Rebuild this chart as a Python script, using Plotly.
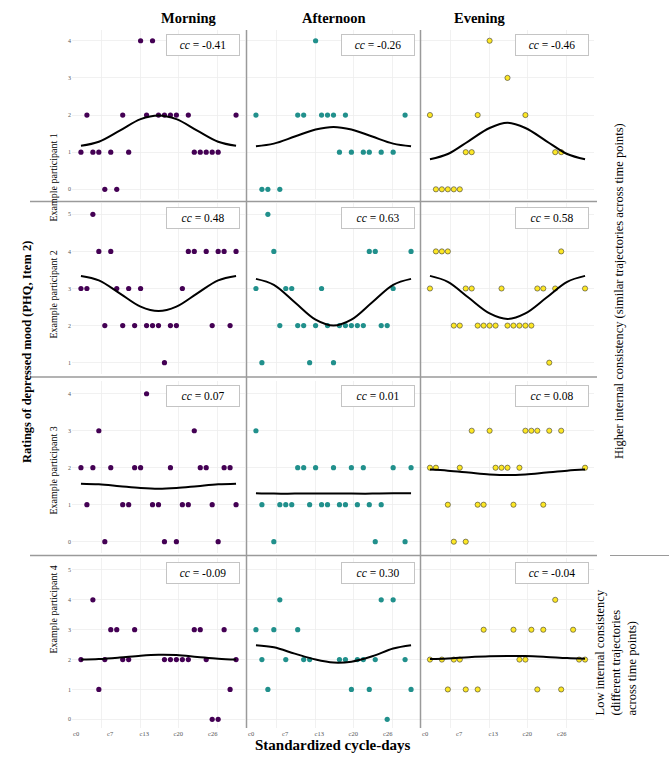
import plotly.graph_objects as go

W, H = 669, 764

# ---------------- data ----------------
col_names = ["Morning", "Afternoon", "Evening"]
row_names = ["Example participant 1", "Example participant 2",
             "Example participant 3", "Example participant 4"]
colors = ["#440154", "#21908C", "#FDE725"]
cc_values = [["-0.41", "-0.26", "-0.46"],
             ["0.48", "0.63", "0.58"],
             ["0.07", "0.01", "0.08"],
             ["-0.09", "0.30", "-0.04"]]
x_tick_text = ["c0", "c7", "c13", "c20", "c26"]
x_tick_vals = [-0.8, 4.9, 10.6, 16.3, 22.1]
x_grid_vals = [3.4, 9.9, 16.4, 22.9]

# Participant 1
p1_m_days = [0, 1, 2, 3, 4, 5, 6, 7, 8, 10, 11, 12, 13, 14, 15, 16, 18, 19, 20, 21, 22, 23, 26]
p1_m_vals = [1, 2, 1, 1, 0, 1, 0, 2, 1, 4, 2, 4, 2, 2, 2, 2, 2, 1, 1, 1, 1, 1, 2]
p1_a_days = [0, 1, 2, 4, 7, 8, 10, 11, 12, 13, 14, 15, 16, 18, 19, 21, 23, 25]
p1_a_vals = [2, 0, 0, 0, 2, 2, 4, 2, 2, 2, 1, 2, 1, 1, 1, 1, 1, 2]
p1_e_days = [0, 1, 2, 3, 4, 5, 6, 7, 8, 10, 13, 16, 21, 22]
p1_e_vals = [2, 0, 0, 0, 0, 0, 1, 1, 2, 4, 3, 2, 1, 1]
# Participant 2
p2_m_days = [0, 1, 2, 3, 4, 5, 6, 7, 8, 9, 10, 11, 12, 13, 14, 15, 16, 17, 18, 19, 21, 22, 23, 24, 25, 26]
p2_m_vals = [3, 3, 5, 4, 2, 4, 3, 2, 3, 2, 3, 2, 2, 2, 1, 2, 2, 3, 4, 4, 4, 2, 4, 4, 2, 4]
p2_a_days = [0, 1, 2, 3, 4, 5, 6, 7, 8, 9, 10, 11, 12, 13, 14, 15, 16, 17, 18, 19, 20, 21, 22, 23, 26]
p2_a_vals = [3, 1, 5, 4, 2, 3, 3, 2, 2, 1, 2, 3, 2, 1, 2, 2, 2, 2, 2, 4, 4, 2, 2, 3, 4]
p2_e_days = [0, 1, 2, 3, 4, 5, 6, 7, 8, 9, 10, 11, 12, 13, 14, 15, 16, 17, 18, 19, 20, 21, 22, 26]
p2_e_vals = [3, 4, 4, 4, 2, 2, 3, 3, 2, 2, 2, 2, 3, 2, 2, 2, 2, 2, 3, 3, 1, 3, 4, 3]
# Participant 3
p3_m_days = [0, 1, 2, 3, 4, 5, 7, 8, 9, 10, 11, 12, 13, 14, 15, 16, 17, 18, 19, 20, 21, 22, 23, 24, 25, 26]
p3_m_vals = [2, 1, 2, 3, 0, 2, 1, 1, 2, 2, 4, 1, 1, 0, 2, 0, 1, 1, 3, 2, 2, 1, 0, 2, 2, 1]
p3_a_days = [0, 1, 3, 4, 5, 6, 7, 8, 9, 10, 11, 12, 13, 14, 15, 16, 17, 18, 19, 20, 21, 23, 25, 26]
p3_a_vals = [3, 1, 0, 1, 1, 1, 2, 2, 1, 2, 1, 1, 2, 1, 1, 2, 1, 2, 1, 0, 1, 2, 0, 2]
p3_e_days = [0, 1, 3, 4, 5, 6, 7, 8, 9, 10, 11, 12, 13, 14, 15, 16, 17, 18, 19, 20, 22, 26]
p3_e_vals = [2, 2, 1, 0, 2, 0, 3, 1, 1, 3, 2, 2, 2, 1, 2, 3, 3, 3, 1, 3, 3, 2]
# Participant 4
p4_m_days = [0, 2, 3, 4, 5, 6, 7, 8, 9, 14, 15, 16, 17, 18, 19, 20, 21, 22, 23, 24, 25, 26]
p4_m_vals = [2, 4, 1, 2, 3, 3, 2, 2, 3, 2, 2, 2, 2, 2, 3, 3, 2, 0, 0, 3, 1, 2]
p4_a_days = [0, 1, 2, 3, 4, 5, 7, 8, 9, 14, 15, 16, 17, 18, 19, 20, 21, 22, 23, 25, 26]
p4_a_vals = [3, 2, 1, 3, 4, 2, 3, 2, 2, 2, 2, 1, 2, 2, 1, 2, 4, 0, 4, 2, 1]
p4_e_days = [0, 2, 3, 4, 5, 6, 8, 9, 14, 15, 16, 17, 18, 19, 21, 22, 24, 25, 26]
p4_e_vals = [2, 2, 1, 2, 2, 1, 1, 3, 3, 2, 2, 3, 1, 3, 4, 1, 3, 2, 2]

# fitted curves
curve_days = [0, 3, 6.5, 10, 13, 16, 19.5, 23, 26]
p1_m_fit = [1.17, 1.28, 1.58, 1.89, 1.99, 1.89, 1.58, 1.28, 1.17]
p1_a_fit = [1.16, 1.23, 1.42, 1.61, 1.68, 1.61, 1.42, 1.23, 1.16]
p1_e_fit = [0.81, 0.95, 1.30, 1.65, 1.79, 1.65, 1.30, 0.95, 0.81]
p2_m_fit = [3.34, 3.22, 2.87, 2.51, 2.39, 2.51, 2.87, 3.22, 3.34]
p2_a_fit = [3.26, 3.10, 2.63, 2.16, 2.00, 2.16, 2.63, 3.10, 3.26]
p2_e_fit = [3.34, 3.18, 2.75, 2.33, 2.18, 2.33, 2.75, 3.18, 3.34]
p3_m_fit = [1.57, 1.55, 1.50, 1.45, 1.43, 1.45, 1.50, 1.55, 1.57]
p3_a_fit = [1.31, 1.30, 1.30, 1.30, 1.30, 1.30, 1.30, 1.31, 1.31]
p3_e_fit = [1.95, 1.92, 1.87, 1.82, 1.80, 1.82, 1.87, 1.92, 1.95]
p4_m_fit = [2.00, 2.02, 2.07, 2.13, 2.16, 2.15, 2.09, 2.03, 2.00]
p4_a_fit = [2.48, 2.41, 2.20, 2.00, 1.90, 1.93, 2.11, 2.37, 2.48]
p4_e_fit = [2.02, 2.04, 2.08, 2.11, 2.12, 2.12, 2.09, 2.05, 2.03]

panels = [
    [(p1_m_days, p1_m_vals, p1_m_fit), (p1_a_days, p1_a_vals, p1_a_fit), (p1_e_days, p1_e_vals, p1_e_fit)],
    [(p2_m_days, p2_m_vals, p2_m_fit), (p2_a_days, p2_a_vals, p2_a_fit), (p2_e_days, p2_e_vals, p2_e_fit)],
    [(p3_m_days, p3_m_vals, p3_m_fit), (p3_a_days, p3_a_vals, p3_a_fit), (p3_e_days, p3_e_vals, p3_e_fit)],
    [(p4_m_days, p4_m_vals, p4_m_fit), (p4_a_days, p4_a_vals, p4_a_fit), (p4_e_days, p4_e_vals, p4_e_fit)],
]
row_ranges = [[-0.25, 4.3], [0.7, 5.3], [-0.3, 4.35], [-0.3, 5.4]]
row_ticks = [[0, 1, 2, 3, 4], [1, 2, 3, 4, 5], [0, 1, 2, 3, 4], [0, 1, 2, 3, 4, 5]]

# ---------------- layout geometry (pixels) ----------------
col_px = [(72, 245), (247, 420), (421, 594)]
row_px = [(29.6, 198.6), (203.2, 373.8), (380.8, 552.8), (558, 728.3)]
row_label_y = [132, 295, 471, 656]


def px(x):
    return x / W


def py(y):
    return 1 - y / H


SERIF = "Liberation Serif"
fig = go.Figure()
layout = {}
annotations = []

for r in range(4):
    for c in range(3):
        k = r * 3 + c + 1
        xs = "" if k == 1 else str(k)
        days, vals, fit = panels[r][c]
        fig.add_trace(go.Scatter(
            x=days, y=vals, mode="markers",
            marker=dict(size=5.2, color=colors[c],
                        line=dict(color="#3a3a3a" if c == 2 else colors[c], width=0.6 if c == 2 else 0)),
            xaxis="x" + xs, yaxis="y" + xs, showlegend=False, hoverinfo="skip"))
        fig.add_trace(go.Scatter(
            x=curve_days, y=fit, mode="lines",
            line=dict(color="black", width=2, shape="spline", smoothing=1.0),
            xaxis="x" + xs, yaxis="y" + xs, showlegend=False, hoverinfo="skip"))
        x0, x1 = col_px[c]
        y0, y1 = row_px[r]
        layout["xaxis" + xs] = dict(
            domain=[px(x0), px(x1)], range=[-1.5, 27.5], anchor="y" + xs,
            showgrid=False, zeroline=False, showline=False, ticks="",
            tickvals=x_tick_vals, ticktext=x_tick_text,
            showticklabels=(r == 3),
            tickfont=dict(family=SERIF, size=6.5, color="#555555"),
            minor=dict(tickvals=x_grid_vals, showgrid=True, gridcolor="#eeeeee", gridwidth=0.8, ticks=""),
        )
        layout["yaxis" + xs] = dict(
            domain=[py(y1), py(y0)], range=row_ranges[r], anchor="x" + xs,
            showgrid=True, gridcolor="#eeeeee", gridwidth=0.8, zeroline=False, showline=False,
            ticks="", tickvals=row_ticks[r], showticklabels=(c == 0),
            tickfont=dict(family=SERIF, size=6, color="#555555"),
        )
        annotations.append(dict(
            xref=f"x{xs} domain", yref=f"y{xs} domain", x=0.972, y=1 - 4 / (y1 - y0),
            xanchor="right", yanchor="top", showarrow=False,
            text=f"<i>cc</i> = {cc_values[r][c]}",
            font=dict(family=SERIF, size=11.5, color="black"),
            bgcolor="white", bordercolor="#c4c4c4", borderwidth=1, borderpad=2,
            width=68, height=16, align="center"))

# column titles
for c in range(3):
    x0, x1 = col_px[c]
    annotations.append(dict(xref="paper", yref="paper", x=px((x0 + x1) / 2), y=py(8),
                            text=f"<b>{col_names[c]}</b>", showarrow=False,
                            font=dict(family=SERIF, size=14.5, color="black")))
# row labels
for r in range(4):
    annotations.append(dict(xref="paper", yref="paper", x=px(45), y=py(row_label_y[r]),
                            text=row_names[r], textangle=-90, showarrow=False,
                            font=dict(family=SERIF, size=10, color="black")))
# axis titles
annotations.append(dict(xref="paper", yref="paper", x=px(18), y=py(352),
                        text="<b>Ratings of depressed mood (PHQ, Item 2)</b>", textangle=-90,
                        showarrow=False, font=dict(family=SERIF, size=12.5, color="black")))
annotations.append(dict(xref="paper", yref="paper", x=px(333), y=py(755),
                        text="<b>Standardized cycle-days</b>", showarrow=False,
                        font=dict(family=SERIF, size=15, color="black")))
# right side texts
annotations.append(dict(xref="paper", yref="paper", x=px(628), y=py(291),
                        text="Higher internal consistency (similar trajectories across time points)",
                        textangle=-90, showarrow=False,
                        font=dict(family=SERIF, size=12.5, color="black")))
annotations.append(dict(xref="paper", yref="paper", x=px(641), y=py(718),
                        text="Low internal consistency<br>(different trajectories<br>across time points)",
                        textangle=-90, showarrow=False, yanchor="bottom", align="left",
                        font=dict(family=SERIF, size=12.5, color="black")))

shapes = []
for xv in [246.5, 420.5]:
    shapes.append(dict(type="line", xref="paper", yref="paper", x0=px(xv), x1=px(xv),
                       y0=py(30), y1=py(728), line=dict(color="#9a9a9a", width=1.5)))
for yv in [201.5, 377, 555.5]:
    shapes.append(dict(type="line", xref="paper", yref="paper", x0=px(30), x1=px(597),
                       y0=py(yv), y1=py(yv), line=dict(color="#9a9a9a", width=1.5)))
shapes.append(dict(type="line", xref="paper", yref="paper", x0=px(610), x1=px(669),
                   y0=py(555.5), y1=py(555.5), line=dict(color="#9a9a9a", width=1.2)))

fig.update_layout(width=W, height=H, margin=dict(l=0, r=0, t=0, b=0),
                  paper_bgcolor="white", plot_bgcolor="white",
                  annotations=annotations, shapes=shapes, **layout)
fig.write_html("out.html", config={"displayModeBar": False, "staticPlot": True},
               post_script="document.body.style.margin='0';document.body.style.overflow='hidden';")
